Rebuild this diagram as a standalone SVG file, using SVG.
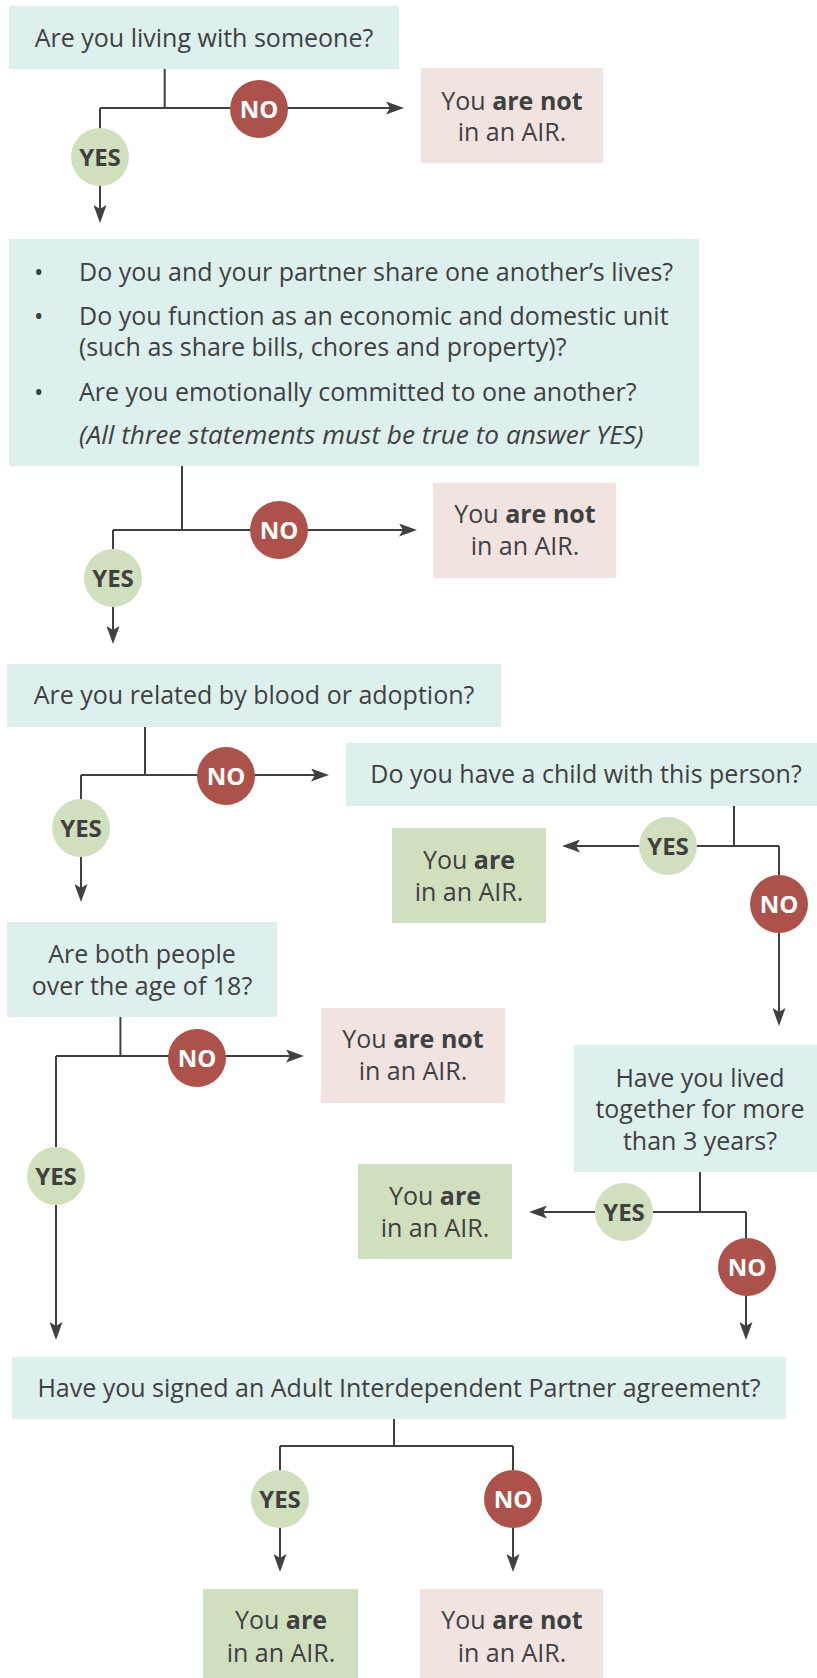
<svg xmlns="http://www.w3.org/2000/svg" width="817" height="1678" viewBox="0 0 817 1678">
<style>
.q{fill:#DEF0EE}
.no-box{fill:#F1E3E0}
.yes-box{fill:#D0DFBE}
.t{font-family:"Open Sans","Noto Sans","DejaVu Sans",sans-serif;font-size:25px;fill:#404040}
.c{text-anchor:middle}
.b{font-weight:bold}
.it{font-style:italic;font-size:26.2px}
.ln{fill:none;stroke:#404040;stroke-width:2}
.yc{fill:#D0DFBE}
.nc{fill:#AD524A}
.yl{font-family:"Open Sans","Noto Sans","DejaVu Sans",sans-serif;font-size:24px;font-weight:bold;fill:#404040;text-anchor:middle}
.nl{font-family:"Open Sans","Noto Sans","DejaVu Sans",sans-serif;font-size:24px;font-weight:bold;fill:#FFFFFF;text-anchor:middle}
</style>
<defs>
<marker id="ah" markerUnits="userSpaceOnUse" markerWidth="18" markerHeight="13" refX="12" refY="6.5" orient="auto" viewBox="0 0 18 13">
<path d="M0,0 L18,6.5 L0,13 L4,6.5 Z" fill="#404040"/>
</marker>
</defs>
<rect width="817" height="1678" fill="#FFFFFF"/>
<g id="connectors">
<path class="ln" d="M164.7,69 V108"/>
<path class="ln" d="M100,108 H398" marker-end="url(#ah)"/>
<path class="ln" d="M100,108 V217" marker-end="url(#ah)"/>
<path class="ln" d="M182,466 V530"/>
<path class="ln" d="M113,530 H411" marker-end="url(#ah)"/>
<path class="ln" d="M113,530 V638" marker-end="url(#ah)"/>
<path class="ln" d="M145,727 V775"/>
<path class="ln" d="M81,775 H323" marker-end="url(#ah)"/>
<path class="ln" d="M81,775 V896" marker-end="url(#ah)"/>
<path class="ln" d="M734,806 V846"/>
<path class="ln" d="M779,846 H568" marker-end="url(#ah)"/>
<path class="ln" d="M779,846 V1020" marker-end="url(#ah)"/>
<path class="ln" d="M120.4,1017 V1056"/>
<path class="ln" d="M56,1056 H298" marker-end="url(#ah)"/>
<path class="ln" d="M56,1056 V1334" marker-end="url(#ah)"/>
<path class="ln" d="M700,1172 V1212"/>
<path class="ln" d="M746,1212 H535" marker-end="url(#ah)"/>
<path class="ln" d="M746,1212 V1334" marker-end="url(#ah)"/>
<path class="ln" d="M394,1419 V1446"/>
<path class="ln" d="M280,1446 H513"/>
<path class="ln" d="M280,1446 V1566" marker-end="url(#ah)"/>
<path class="ln" d="M513,1446 V1566" marker-end="url(#ah)"/>
</g>
<g id="q1">
<rect class="q" x="9" y="6" width="390" height="63"/>
<text class="t c" x="204" y="47">Are you living with someone?</text>
</g>
<g id="r1">
<rect class="no-box" x="421" y="68" width="182" height="95"/>
<text class="t c" x="512" y="110">You <tspan class="b">are not</tspan></text>
<text class="t c" x="512" y="141">in an AIR.</text>
</g>
<g id="q2">
<rect class="q" x="9" y="239" width="690" height="227"/>
<text class="t" x="34" y="281">•</text>
<text class="t" x="79" y="281">Do you and your partner share one another’s lives?</text>
<text class="t" x="34" y="325">•</text>
<text class="t" x="79" y="325">Do you function as an economic and domestic unit</text>
<text class="t" x="79" y="356">(such as share bills, chores and property)?</text>
<text class="t" x="34" y="401">•</text>
<text class="t" x="79" y="401">Are you emotionally committed to one another?</text>
<text class="t it" x="79" y="444">(All three statements must be true to answer YES)</text>
</g>
<g id="r2">
<rect class="no-box" x="433" y="483" width="183" height="95"/>
<text class="t c" x="525" y="523">You <tspan class="b">are not</tspan></text>
<text class="t c" x="525" y="555">in an AIR.</text>
</g>
<g id="q3">
<rect class="q" x="7" y="664" width="494" height="63"/>
<text class="t c" x="254" y="704">Are you related by blood or adoption?</text>
</g>
<g id="q4">
<rect class="q" x="346" y="743" width="471" height="63"/>
<text class="t c" x="586" y="783">Do you have a child with this person?</text>
</g>
<g id="r3">
<rect class="yes-box" x="392" y="828" width="154" height="95"/>
<text class="t c" x="469" y="869">You <tspan class="b">are</tspan></text>
<text class="t c" x="469" y="901">in an AIR.</text>
</g>
<g id="q5">
<rect class="q" x="7" y="922" width="270" height="95"/>
<text class="t c" x="142" y="963">Are both people</text>
<text class="t c" x="142" y="995">over the age of 18?</text>
</g>
<g id="r4">
<rect class="no-box" x="321" y="1008" width="184" height="95"/>
<text class="t c" x="413" y="1048">You <tspan class="b">are not</tspan></text>
<text class="t c" x="413" y="1080">in an AIR.</text>
</g>
<g id="q6">
<rect class="q" x="574" y="1045" width="243" height="127"/>
<text class="t c" x="700" y="1087">Have you lived</text>
<text class="t c" x="700" y="1118">together for more</text>
<text class="t c" x="700" y="1150">than 3 years?</text>
</g>
<g id="r5">
<rect class="yes-box" x="358" y="1164" width="154" height="95"/>
<text class="t c" x="435" y="1205">You <tspan class="b">are</tspan></text>
<text class="t c" x="435" y="1237">in an AIR.</text>
</g>
<g id="q7">
<rect class="q" x="12" y="1357" width="774" height="62"/>
<text class="t c" x="399" y="1397">Have you signed an Adult Interdependent Partner agreement?</text>
</g>
<g id="r6">
<rect class="yes-box" x="203" y="1589" width="155" height="89"/>
<text class="t c" x="281" y="1629">You <tspan class="b">are</tspan></text>
<text class="t c" x="281" y="1662">in an AIR.</text>
</g>
<g id="r7">
<rect class="no-box" x="420" y="1589" width="183" height="89"/>
<text class="t c" x="512" y="1629">You <tspan class="b">are not</tspan></text>
<text class="t c" x="512" y="1662">in an AIR.</text>
</g>
<g id="labels">
<g id="no1"><circle class="nc" cx="259" cy="109" r="29"/><text class="nl" x="259" y="118">NO</text></g>
<g id="yes1"><circle class="yc" cx="100" cy="157" r="29"/><text class="yl" x="100" y="166">YES</text></g>
<g id="no2"><circle class="nc" cx="279" cy="530" r="29"/><text class="nl" x="279" y="539">NO</text></g>
<g id="yes2"><circle class="yc" cx="113" cy="578" r="29"/><text class="yl" x="113" y="587">YES</text></g>
<g id="no3"><circle class="nc" cx="226" cy="776" r="29"/><text class="nl" x="226" y="785">NO</text></g>
<g id="yes3"><circle class="yc" cx="81" cy="828" r="29"/><text class="yl" x="81" y="837">YES</text></g>
<g id="yes4"><circle class="yc" cx="668" cy="846" r="29"/><text class="yl" x="668" y="855">YES</text></g>
<g id="no4"><circle class="nc" cx="779" cy="904" r="29"/><text class="nl" x="779" y="913">NO</text></g>
<g id="no5"><circle class="nc" cx="197" cy="1058" r="29"/><text class="nl" x="197" y="1067">NO</text></g>
<g id="yes5"><circle class="yc" cx="56" cy="1176" r="29"/><text class="yl" x="56" y="1185">YES</text></g>
<g id="yes6"><circle class="yc" cx="624" cy="1212" r="29"/><text class="yl" x="624" y="1221">YES</text></g>
<g id="no6"><circle class="nc" cx="747" cy="1267" r="29"/><text class="nl" x="747" y="1276">NO</text></g>
<g id="yes7"><circle class="yc" cx="280" cy="1499" r="29"/><text class="yl" x="280" y="1508">YES</text></g>
<g id="no7"><circle class="nc" cx="513" cy="1499" r="29"/><text class="nl" x="513" y="1508">NO</text></g>
</g>
</svg>
